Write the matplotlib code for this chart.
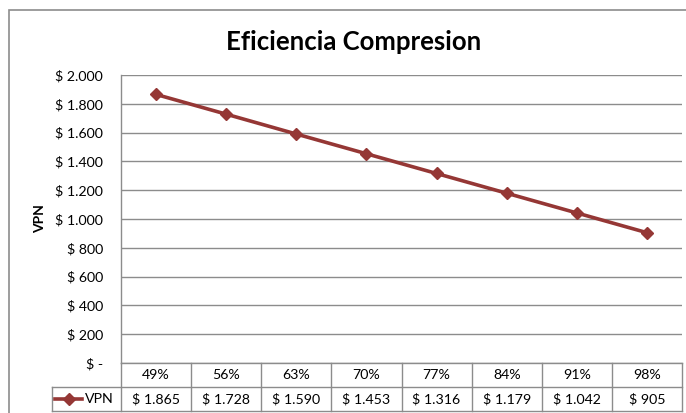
import matplotlib
matplotlib.use("Agg")
import matplotlib.pyplot as plt
from matplotlib.lines import Line2D
from matplotlib.patches import Rectangle
import matplotlib.transforms as mtransforms

# Data
efficiency = ["49%", "56%", "63%", "70%", "77%", "84%", "91%", "98%"]
vpn = [1865, 1728, 1590, 1453, 1316, 1179, 1042, 905]
series_name = "VPN"
title = "Eficiencia Compresion"
y_ticks = [0, 200, 400, 600, 800, 1000, 1200, 1400, 1600, 1800, 2000]

LINE_COLOR = "#953735"
GRID_COLOR = "#8c8c8c"
FONT = ["Lato", "DejaVu Sans"]
TXT = 10.2

plt.rcParams["font.family"] = FONT

W, H = 686, 413
fig = plt.figure(figsize=(W / 100, H / 100), dpi=100)

# Chart frame
fig.patches.append(Rectangle((9 / W, -0.05), 1.2, (H - 10) / H + 0.05,
                             transform=fig.transFigure, fill=False,
                             edgecolor=GRID_COLOR, linewidth=1.2, zorder=0))

# Plot area (pixels: left 121, right 682, top 75, bottom 363)
ax = fig.add_axes([121 / W, (H - 363) / H, (682 - 121) / W, (363 - 75) / H])

x = list(range(len(efficiency)))
ax.plot(x, vpn, color=LINE_COLOR, linewidth=2.6, marker="D", markersize=6.5,
        markeredgecolor=LINE_COLOR, markerfacecolor=LINE_COLOR, zorder=3,
        clip_on=False)

ax.set_xlim(-0.5, len(efficiency) - 0.5)
ax.set_ylim(0, 2000)
ax.set_yticks(y_ticks)


def money(v):
    if v == 0:
        return "$ -"
    return "$ " + f"{v:,.0f}".replace(",", ".")


ax.set_yticklabels([money(v) for v in y_ticks])
ax.tick_params(axis="y", length=0, pad=13, labelsize=TXT, colors="black")
ax.set_xticks([])
ax.grid(axis="y", color=GRID_COLOR, linewidth=1.0)
ax.set_axisbelow(True)
for side in ["top", "right", "bottom"]:
    ax.spines[side].set_visible(False)
ax.spines["left"].set_color(GRID_COLOR)
ax.spines["left"].set_linewidth(1.0)

fig.text(40 / W, 1 - 219 / H, series_name, rotation=90, fontsize=10,
         fontweight="bold", ha="center", va="center")

fig.text(354 / W, 1 - 42 / H, title, fontsize=18.5, fontweight="bold",
         ha="center", va="center")

# Data table beneath the axis
trans = mtransforms.blended_transform_factory(ax.transData, ax.transAxes)
row_h = 24 / 288
n = len(efficiency)
px = 561 / n
legend_left = -0.5 - (121 - 52) / px

def hline(x0, x1, y):
    ax.add_line(Line2D([x0, x1], [y, y], transform=trans, color=GRID_COLOR,
                       linewidth=1.0, clip_on=False))

def vline(xv, y0, y1):
    ax.add_line(Line2D([xv, xv], [y0, y1], transform=trans, color=GRID_COLOR,
                       linewidth=1.0, clip_on=False))

hline(-0.5, n - 0.5, 0)
hline(legend_left, n - 0.5, -row_h)
hline(legend_left, n - 0.5, -2 * row_h)
for k in range(n + 1):
    vline(-0.5 + k, 0, -2 * row_h)
vline(legend_left, -row_h, -2 * row_h)

for i, (cat, v) in enumerate(zip(efficiency, vpn)):
    ax.text(i, -0.5 * row_h, cat, transform=trans, ha="center", va="center",
            fontsize=TXT)
    ax.text(i, -1.5 * row_h, money(v), transform=trans, ha="center",
            va="center", fontsize=TXT)

# Legend key in the table
k0 = -0.5 + (55 - 121) / px
k1 = -0.5 + (82 - 121) / px
ax.add_line(Line2D([k0, k1], [-1.5 * row_h] * 2, transform=trans,
                   color=LINE_COLOR, linewidth=2.6, clip_on=False))
ax.add_line(Line2D([(k0 + k1) / 2], [-1.5 * row_h], transform=trans,
                   color=LINE_COLOR, marker="D", markersize=6.5, clip_on=False))
ax.text(-0.5 + (85 - 121) / px, -1.5 * row_h, series_name, transform=trans,
        ha="left", va="center", fontsize=TXT)

fig.savefig("out.png", dpi=100)
